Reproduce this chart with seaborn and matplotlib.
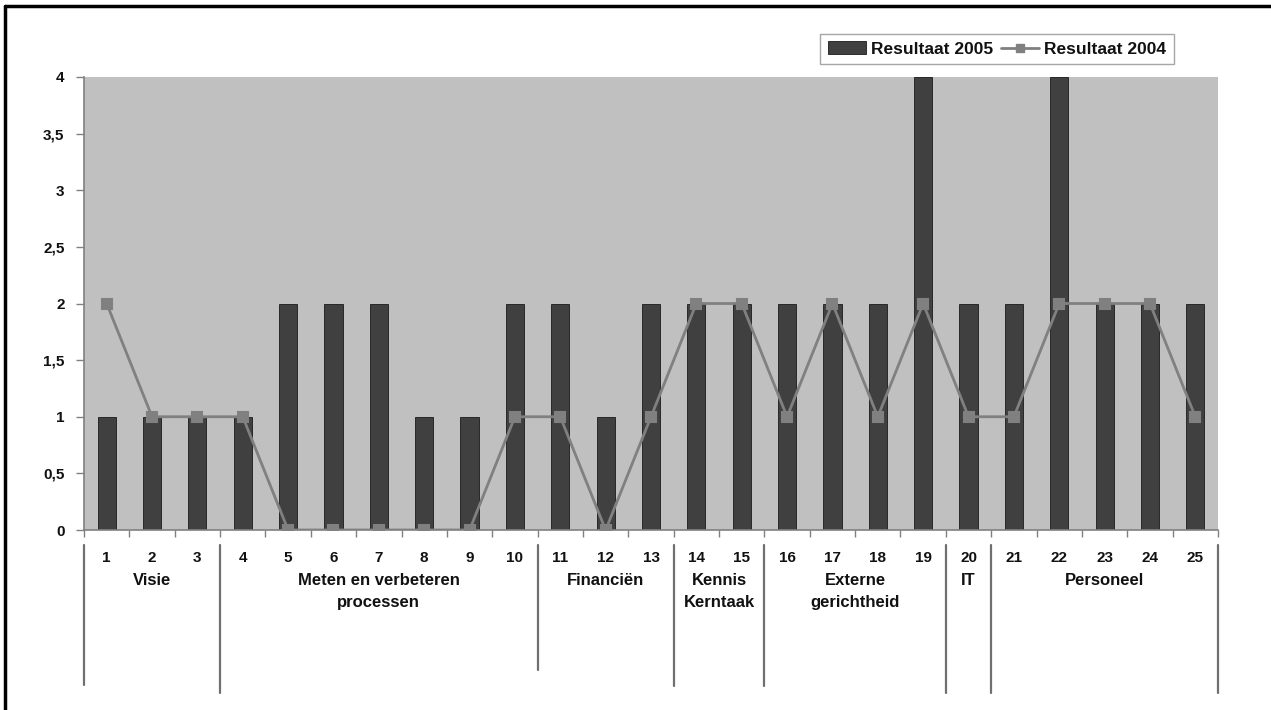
import numpy as np
import matplotlib
matplotlib.use('Agg')
import matplotlib.pyplot as plt
import matplotlib.transforms as mtransforms
from matplotlib.lines import Line2D
from matplotlib.patches import Patch
import seaborn as sns
import pandas as pd

# ---------------- data ----------------
categories = [str(i) for i in range(1, 26)]
result_2005 = [1, 1, 1, 1, 2, 2, 2, 1, 1, 2, 2, 1, 2, 2, 2, 2, 2, 2, 4, 2, 2, 4, 2, 2, 2]
result_2004 = [2, 1, 1, 1, 0, 0, 0, 0, 0, 1, 1, 0, 1, 2, 2, 1, 2, 1, 2, 1, 1, 2, 2, 2, 1]
series_names = ['Resultaat 2005', 'Resultaat 2004']
group_labels = ['Visie', 'Meten en verbeteren\nprocessen', 'Financiën', 'Kennis\nKerntaak',
                'Externe\ngerichtheid', 'IT', 'Personeel']
group_sizes = [3, 7, 3, 2, 4, 1, 5]
ytick_values = [0, 0.5, 1, 1.5, 2, 2.5, 3, 3.5, 4]
ytick_labels = ['0', '0,5', '1', '1,5', '2', '2,5', '3', '3,5', '4']

# ---------------- style ----------------
W, H = 1271, 710
sns.set_theme(style='white')
plt.rcParams['font.family'] = ['Liberation Sans', 'DejaVu Sans']

BAR = '#404040'
LINE = '#808080'
BG = '#c0c0c0'

fig = plt.figure(figsize=(W / 100, H / 100), dpi=100)
fig.patch.set_facecolor('white')
ax = fig.add_axes([84 / W, 1 - 530 / H, (1218 - 84) / W, (530 - 77) / H])
ax.set_facecolor(BG)

df = pd.DataFrame({'cat': categories, 'r2005': result_2005, 'r2004': result_2004})
sns.barplot(data=df, x='cat', y='r2005', order=categories, color=BAR, saturation=1,
            width=0.4, edgecolor='#1a1a1a', linewidth=0.6, ax=ax, zorder=2)
sns.pointplot(data=df, x='cat', y='r2004', order=categories, color=LINE, markers='s',
              errorbar=None, markersize=6.5, linewidth=2, ax=ax, zorder=3)

ax.set_xlim(-0.5, len(categories) - 0.5)
ax.set_ylim(0, 4)
ax.set_xlabel('')
ax.set_ylabel('')

for s in ['top', 'right']:
    ax.spines[s].set_visible(False)
for s in ['left', 'bottom']:
    ax.spines[s].set_color(LINE)
    ax.spines[s].set_linewidth(1.2)

ax.set_yticks(ytick_values)
ax.set_yticklabels(ytick_labels, fontsize=11, fontweight='bold', color='#111111')
ax.tick_params(axis='y', direction='out', length=6, width=1, color=LINE, pad=8, left=True)

ax.set_xticks(np.arange(len(categories)))
ax.set_xticklabels(categories, fontsize=11, fontweight='bold', color='#111111')
ax.tick_params(axis='x', which='major', length=0, pad=15, bottom=True)
ax.set_xticks(np.arange(-0.5, len(categories), 1), minor=True)
ax.tick_params(axis='x', which='minor', direction='out', length=5, width=1, color=LINE, bottom=True)

# ---------------- group axis ----------------
trans = mtransforms.blended_transform_factory(ax.transData, fig.transFigure)
bounds = np.concatenate([[0], np.cumsum(group_sizes)]) - 0.5
sep_bottoms = [685, 693, 670, 686, 686, 693, 693, 693]
for b, yb in zip(bounds, sep_bottoms):
    fig.add_artist(Line2D([b, b], [1 - 545 / H, 1 - yb / H], transform=trans,
                          color='#707070', lw=1.6))
for i, lab in enumerate(group_labels):
    cx = (bounds[i] + bounds[i + 1]) / 2
    fig.text(cx, 1 - 573 / H, lab, transform=trans, ha='center', va='top',
             fontsize=12, fontweight='bold', color='#111111', linespacing=1.55)

# ---------------- legend ----------------
handles = [Patch(facecolor=BAR, edgecolor='#1a1a1a', linewidth=0.6),
           Line2D([0], [0], color=LINE, lw=2, marker='s', markersize=6)]
leg = fig.legend(handles, series_names, loc='center', bbox_to_anchor=(997 / W, 1 - 49 / H),
                 ncol=2, frameon=True, fancybox=False, edgecolor='#909090',
                 prop={'size': 12.5, 'weight': 'bold'}, handlelength=2.2,
                 handletextpad=0.3, columnspacing=0.4, borderpad=0.45)
leg.get_frame().set_linewidth(1.0)
for t in leg.get_texts():
    t.set_color('#111111')

# ---------------- outer frame ----------------
fig.add_artist(Line2D([5 / W, 5 / W], [0, 1 - 6 / H], transform=fig.transFigure, color='black', lw=2.5))
fig.add_artist(Line2D([5 / W, 1], [1 - 6 / H, 1 - 6 / H], transform=fig.transFigure, color='black', lw=2.5))

fig.savefig('out.png', dpi=100)
